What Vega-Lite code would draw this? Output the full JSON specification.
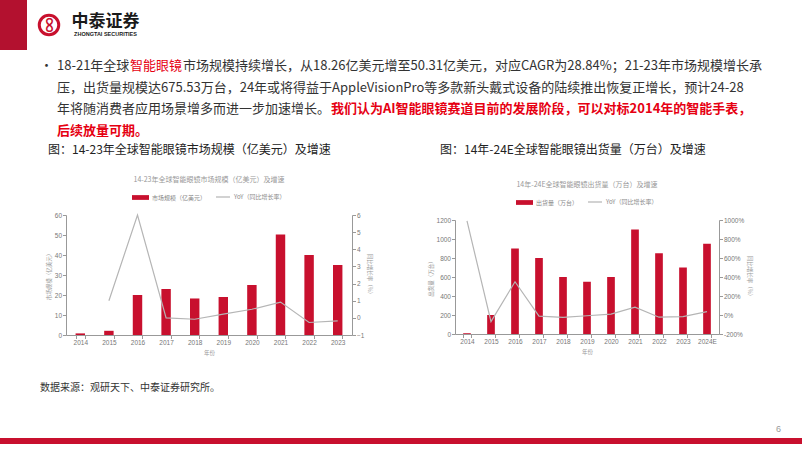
{
  "$schema": "https://vega.github.io/schema/vega-lite/v6.json",
  "padding": 0,
  "background": "white",
  "spacing": 0,
  "resolve": {"scale": {"fill": "independent", "stroke": "independent"}, "legend": {"fill": "independent", "stroke": "independent"}},
  "config": {
    "view": {"stroke": null},
    "font": "Noto Sans CJK SC",
    "concat": {"spacing": 0},
    "title": {"anchor": "start", "offset": 0, "fontWeight": "normal", "font": "Noto Sans CJK SC", "fontSize": 13, "color": "#333333", "frame": "group"},
    "axis": {"labelFont": "Liberation Sans", "labelFontSize": 6.5, "labelColor": "#777777", "titleFont": "Noto Sans CJK SC", "titleFontSize": 5.5, "titleColor": "#999999", "titleFontWeight": "normal", "domainColor": "#999999", "tickColor": "#999999", "tickSize": 3.5, "labelPadding": 1, "grid": false},
    "legend": {"labelFont": "Noto Sans CJK SC", "labelFontSize": 6, "labelColor": "#888888", "labelOffset": 3, "layout": {"top": {"anchor": "middle", "margin": 8}}}
  },
  "datasets": {
    "market": [
      {"year": "2014", "size": 0.8, "yoy": null},
      {"year": "2015", "size": 2.1, "yoy": 1.0},
      {"year": "2016", "size": 20, "yoy": 6.0},
      {"year": "2017", "size": 23, "yoy": 0.0},
      {"year": "2018", "size": 18.26, "yoy": -0.08},
      {"year": "2019", "size": 19, "yoy": 0.22},
      {"year": "2020", "size": 25, "yoy": 0.5},
      {"year": "2021", "size": 50.31, "yoy": 0.92},
      {"year": "2022", "size": 40, "yoy": -0.27},
      {"year": "2023", "size": 35, "yoy": -0.18}
    ],
    "ship": [
      {"year": "2014", "ship": 8, "yoy": 990},
      {"year": "2015", "ship": 200, "yoy": -70},
      {"year": "2016", "ship": 900, "yoy": 350},
      {"year": "2017", "ship": 800, "yoy": -11},
      {"year": "2018", "ship": 600, "yoy": -25},
      {"year": "2019", "ship": 550, "yoy": -8},
      {"year": "2020", "ship": 600, "yoy": 9},
      {"year": "2021", "ship": 1100, "yoy": 83},
      {"year": "2022", "ship": 850, "yoy": -23},
      {"year": "2023", "ship": 700, "yoy": -18},
      {"year": "2024E", "ship": 950, "yoy": 36}
    ],
    "none": []
  },
  "vconcat": [
    {
      "hconcat": [
        {"width": 27, "height": 50, "view": {"fill": "#b3112f"}, "data": {"name": "none"}, "mark": "point"},
        {"width": 44, "height": 50, "data": {"values": [{"k": "logo"}]},
          "layer": [
            {"mark": {"type": "point", "shape": "circle", "size": 380, "filled": false, "stroke": "#c8102e", "strokeWidth": 3, "opacity": 1}},
            {"mark": {"type": "text", "text": "∞", "angle": 90, "fontSize": 15, "fontWeight": "bold", "color": "#c8102e"}}
          ]
        },
        {"width": 61, "height": 50, "data": {"values": [{"k": "name"}]},
          "layer": [
            {"mark": {"type": "text", "text": "中泰证券", "fontSize": 17, "fontWeight": "bold", "color": "#1a1a1a", "dy": -3.5}},
            {"mark": {"type": "text", "text": "ZHONGTAI SECURITIES", "fontSize": 5.5, "fontWeight": "bold", "font": "Liberation Sans", "color": "#1a1a1a", "dy": 8.5}}
          ]
        }
      ]
    },
    {"width": 0.001, "height": 10, "data": {"name": "none"}, "mark": "point"},
    {
      "spacing": 21.7,
      "bounds": "flush",
      "vconcat": [
        {"hconcat": [
          {"width": 57, "height": 0.001, "data": {"name": "none"}, "mark": "point", "title": {"text": "•", "dx": 40}},
          {"width": 0.001, "height": 0.001, "data": {"name": "none"}, "mark": "point", "title": "18-21年全球"},
          {"width": 0.001, "height": 0.001, "data": {"name": "none"}, "mark": "point", "title": {"text": "智能眼镜", "color": "#e60012"}},
          {"width": 0.001, "height": 0.001, "data": {"name": "none"}, "mark": "point", "title": "市场规模持续增长，从18.26亿美元增至50.31亿美元，对应CAGR为28.84%；21-23年市场规模增长承"}
        ]},
        {"hconcat": [
          {"width": 57, "height": 0.001, "data": {"name": "none"}, "mark": "point"},
          {"width": 0.001, "height": 0.001, "data": {"name": "none"}, "mark": "point", "title": "压，出货量规模达675.53万台，24年或将得益于AppleVisionPro等多款新头戴式设备的陆续推出恢复正增长，预计24-28"}
        ]},
        {"hconcat": [
          {"width": 57, "height": 0.001, "data": {"name": "none"}, "mark": "point"},
          {"width": 0.001, "height": 0.001, "data": {"name": "none"}, "mark": "point", "title": "年将随消费者应用场景增多而进一步加速增长。"},
          {"width": 0.001, "height": 0.001, "data": {"name": "none"}, "mark": "point", "title": {"text": "我们认为AI智能眼镜赛道目前的发展阶段，可以对标2014年的智能手表，", "color": "#e60012", "fontWeight": "bold"}}
        ]},
        {"hconcat": [
          {"width": 57, "height": 0.001, "data": {"name": "none"}, "mark": "point"},
          {"width": 0.001, "height": 0.001, "data": {"name": "none"}, "mark": "point", "title": {"text": "后续放量可期。", "color": "#e60012", "fontWeight": "bold"}}
        ]}
      ]
    },
    {"width": 0.001, "height": 0.001, "data": {"name": "none"}, "mark": "point"},
    {"hconcat": [
      {"width": 440, "height": 0.001, "data": {"name": "none"}, "mark": "point", "title": {"text": "图：14-23年全球智能眼镜市场规模（亿美元）及增速", "dx": 48, "fontSize": 12, "color": "#222222"}},
      {"width": 0.001, "height": 0.001, "data": {"name": "none"}, "mark": "point", "title": {"text": "图：14年-24E全球智能眼镜出货量（万台）及增速", "fontSize": 12, "color": "#222222"}}
    ]},
    {"width": 0.001, "height": 13, "data": {"name": "none"}, "mark": "point"},
    {
      "resolve": {"scale": {"fill": "independent", "stroke": "independent"}, "legend": {"fill": "independent", "stroke": "independent"}},
      "hconcat": [
      {"width": 46, "height": 0.001, "data": {"name": "none"}, "mark": "point"},
      {
        "resolve": {"scale": {"fill": "independent", "stroke": "independent"}, "legend": {"fill": "independent", "stroke": "independent"}},
        "vconcat": [
        {"width": 0.001, "height": 0.001, "data": {"name": "none"}, "mark": "point"},
        {
        "width": 286, "height": 120,
        "title": {"text": "14-23年全球智能眼镜市场规模（亿美元）及增速", "anchor": "middle", "fontSize": 7, "color": "#999999", "offset": 6},
        "data": {"name": "market"},
        "encoding": {"x": {"field": "year", "type": "ordinal", "scale": {"paddingInner": 0.67, "paddingOuter": 0.335}, "axis": {"title": "年份", "labelAngle": 0, "tickBand": "extent", "titlePadding": 4}}},
        "layer": [
          {"mark": {"type": "bar", "color": "#c8102e"},
           "encoding": {
             "y": {"field": "size", "type": "quantitative", "scale": {"domain": [0, 60]}, "axis": {"title": "市场规模（亿美元）", "values": [0, 10, 20, 30, 40, 50, 60], "titlePadding": 3}},
             "fill": {"datum": "市场规模（亿美元）", "type": "nominal", "scale": {"range": ["#c8102e"]}, "legend": {"title": null, "orient": "top", "symbolType": "M-1,-0.28H1V0.28H-1Z", "symbolSize": 289, "symbolStrokeWidth": 0, "offset": 14}}
           }},
          {"mark": {"type": "line", "color": "#b5b5b5", "strokeWidth": 1.2},
           "encoding": {
             "y": {"field": "yoy", "type": "quantitative", "scale": {"domain": [-1, 6]}, "axis": {"title": "同比增长率（%）", "orient": "right", "values": [-1, 0, 1, 2, 3, 4, 5, 6], "titlePadding": 3}},
             "stroke": {"datum": "YoY（同比增长率）", "type": "nominal", "scale": {"range": ["#b5b5b5"]}, "legend": {"title": null, "orient": "top", "symbolType": "stroke", "symbolSize": 196, "symbolStrokeWidth": 1.2, "offset": 14}}
           }}
        ],
        "resolve": {"scale": {"y": "independent"}}
        }
      ]},
      {"width": 56, "height": 0.001, "data": {"name": "none"}, "mark": "point"},
      {
        "resolve": {"scale": {"fill": "independent", "stroke": "independent"}, "legend": {"fill": "independent", "stroke": "independent"}},
        "vconcat": [
        {"width": 0.001, "height": 6, "data": {"name": "none"}, "mark": "point"},
        {
          "width": 264, "height": 114,
          "title": {"text": "14年-24E全球智能眼镜出货量（万台）及增速", "anchor": "middle", "fontSize": 7, "color": "#999999", "offset": 6},
          "data": {"name": "ship"},
          "encoding": {"x": {"field": "year", "type": "ordinal", "scale": {"paddingInner": 0.68, "paddingOuter": 0.34}, "axis": {"title": "年份", "labelAngle": 0, "tickBand": "extent", "titlePadding": 4}}},
          "layer": [
            {"mark": {"type": "bar", "color": "#c8102e"},
             "encoding": {
               "y": {"field": "ship", "type": "quantitative", "scale": {"domain": [0, 1200]}, "axis": {"title": "出货量（万台）", "values": [0, 200, 400, 600, 800, 1000, 1200], "format": "d", "titlePadding": 3}},
               "fill": {"datum": "出货量（万台）", "type": "nominal", "scale": {"range": ["#c8102e"]}, "legend": {"title": null, "orient": "top", "symbolType": "M-1,-0.28H1V0.28H-1Z", "symbolSize": 289, "symbolStrokeWidth": 0, "offset": 14}}
             }},
            {"mark": {"type": "line", "color": "#b5b5b5", "strokeWidth": 1.2},
             "encoding": {
               "y": {"field": "yoy", "type": "quantitative", "scale": {"domain": [-200, 1000]}, "axis": {"title": "同比增长率（%）", "orient": "right", "values": [-200, 0, 200, 400, 600, 800, 1000], "labelExpr": "datum.value + '%'", "titlePadding": 3}},
               "stroke": {"datum": "YoY（同比增长率）", "type": "nominal", "scale": {"range": ["#b5b5b5"]}, "legend": {"title": null, "orient": "top", "symbolType": "stroke", "symbolSize": 196, "symbolStrokeWidth": 1.2, "offset": 14}}
             }}
          ],
          "resolve": {"scale": {"y": "independent"}}
        }
      ]}
    ]},
    {"width": 0.001, "height": 27, "data": {"name": "none"}, "mark": "point"},
    {"width": 0.001, "height": 0.001, "data": {"name": "none"}, "mark": "point", "title": {"text": "数据来源：观研天下、中泰证券研究所。", "dx": 40, "fontSize": 10, "color": "#333333"}},
    {"width": 0.001, "height": 26, "data": {"name": "none"}, "mark": "point"},
    {"width": 802, "height": 6, "view": {"fill": "#c8102e"}, "data": {"name": "none"}, "mark": "point", "title": {"text": "6", "anchor": "end", "dx": -21, "fontSize": 9, "color": "#999999", "font": "Liberation Sans", "offset": 4.5}}
  ]
}
